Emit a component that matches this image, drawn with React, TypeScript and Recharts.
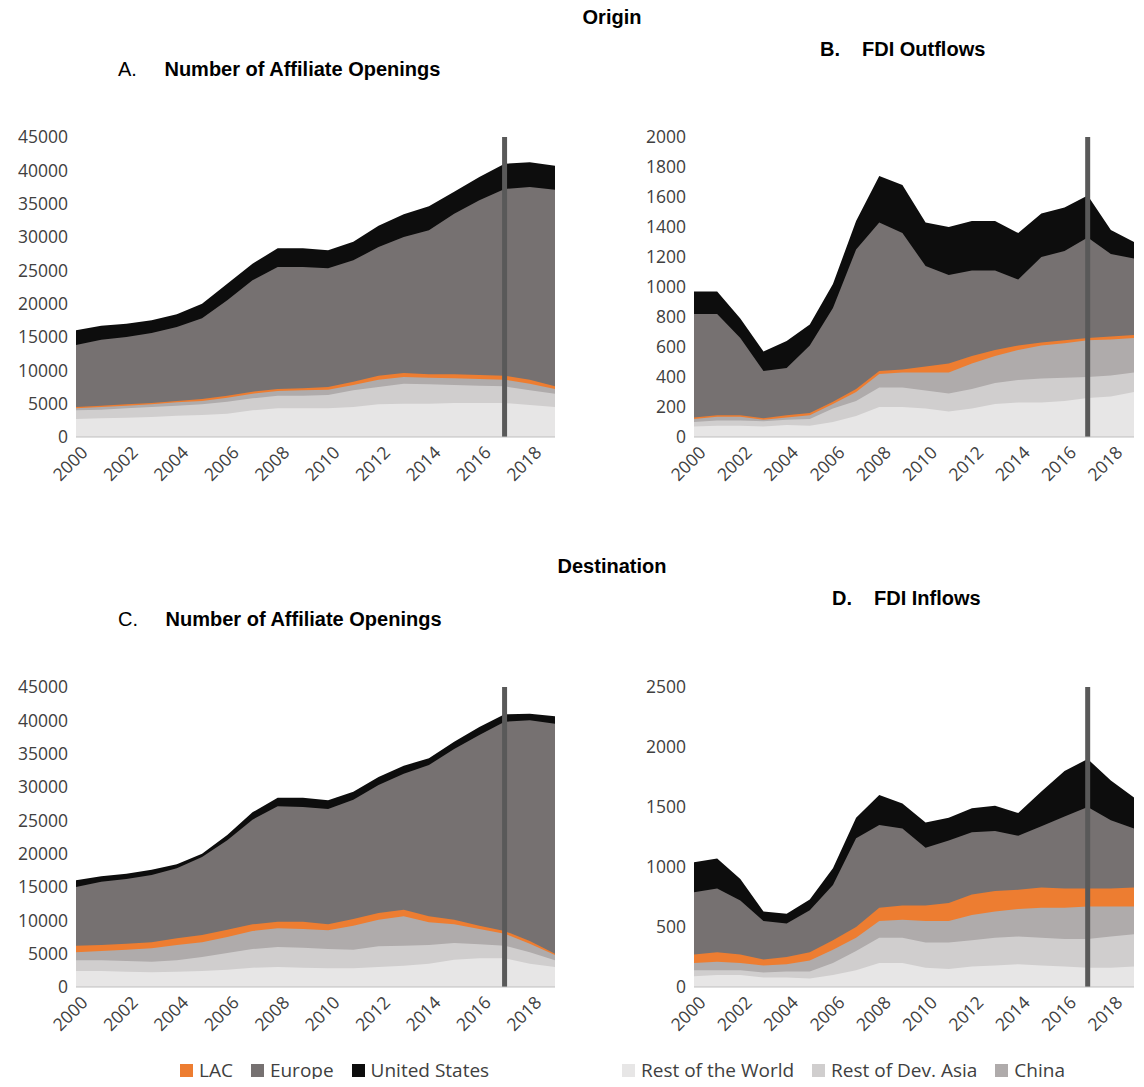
import React from 'react';
import { AreaChart, Area, XAxis, YAxis, ReferenceLine } from 'recharts';

const years = [2000, 2001, 2002, 2003, 2004, 2005, 2006, 2007, 2008, 2009, 2010, 2011, 2012, 2013, 2014, 2015, 2016, 2017, 2018, 2019];

// cumulative (stacked) tops, bottom layer first
const aRow = [2700, 2800, 2900, 3000, 3200, 3300, 3500, 4000, 4300, 4300, 4300, 4500, 4900, 5000, 5000, 5100, 5100, 5100, 4800, 4500];
const aRda = [4000, 4100, 4300, 4500, 4700, 4900, 5300, 5800, 6200, 6200, 6300, 7000, 7500, 8000, 7900, 7800, 7700, 7600, 7000, 6500];
const aChina = [4300, 4500, 4700, 4900, 5200, 5400, 5900, 6500, 6900, 7000, 7100, 7800, 8600, 9000, 8900, 8800, 8700, 8600, 8000, 7200];
const aLac = [4500, 4700, 4900, 5100, 5400, 5700, 6200, 6800, 7200, 7300, 7500, 8300, 9200, 9600, 9400, 9400, 9300, 9200, 8600, 7600];
const aEurope = [13800, 14600, 15000, 15600, 16500, 17800, 20500, 23500, 25500, 25500, 25300, 26500, 28500, 30000, 31000, 33500, 35500, 37200, 37500, 37100];
const aUs = [16000, 16700, 17000, 17500, 18400, 20000, 23000, 26000, 28300, 28300, 28000, 29300, 31700, 33400, 34600, 36800, 39000, 41000, 41200, 40700];

const bRow = [70, 75, 75, 70, 80, 75, 100, 140, 200, 200, 190, 170, 190, 220, 230, 230, 240, 260, 270, 300];
const bRda = [100, 110, 110, 105, 115, 120, 190, 240, 330, 330, 310, 290, 320, 360, 380, 390, 395, 400, 410, 430];
const bChina = [120, 135, 135, 115, 130, 145, 220, 300, 420, 430, 430, 430, 490, 540, 580, 610, 625, 645, 650, 660];
const bLac = [130, 145, 145, 125, 145, 160, 235, 320, 440, 450, 470, 490, 540, 580, 610, 630, 645, 660, 670, 680];
const bEurope = [820, 820, 660, 440, 460, 610, 860, 1250, 1430, 1360, 1140, 1080, 1110, 1110, 1050, 1200, 1240, 1330, 1220, 1190];
const bUs = [970, 970, 790, 570, 640, 750, 1020, 1440, 1740, 1680, 1430, 1400, 1440, 1440, 1360, 1490, 1530, 1610, 1380, 1300];

const cRow = [2400, 2400, 2300, 2200, 2300, 2400, 2600, 2900, 3000, 2900, 2800, 2800, 3000, 3200, 3500, 4100, 4300, 4300, 3500, 3000];
const cRda = [4000, 4000, 3900, 3800, 4000, 4500, 5100, 5700, 6000, 5900, 5700, 5600, 6100, 6200, 6300, 6600, 6400, 6200, 5200, 4000];
const cChina = [5200, 5400, 5600, 5800, 6300, 6700, 7500, 8400, 8800, 8700, 8500, 9200, 10100, 10600, 9700, 9400, 8700, 8000, 6500, 4800];
const cLac = [6200, 6300, 6500, 6700, 7300, 7800, 8600, 9400, 9800, 9800, 9400, 10200, 11100, 11600, 10600, 10100, 9200, 8400, 6900, 5000];
const cEurope = [15000, 15800, 16200, 16800, 17800, 19500, 22000, 25100, 27100, 27000, 26700, 28100, 30300, 32000, 33300, 35700, 37800, 39800, 40000, 39500];
const cUs = [16000, 16600, 17000, 17600, 18400, 20000, 22800, 26200, 28400, 28400, 28000, 29300, 31500, 33200, 34300, 36800, 39000, 40900, 41000, 40600];

const dRow = [90, 100, 100, 80, 80, 70, 100, 140, 200, 200, 160, 150, 170, 180, 190, 180, 170, 160, 160, 170];
const dRda = [140, 140, 140, 120, 130, 130, 200, 300, 410, 410, 370, 370, 390, 410, 420, 410, 400, 400, 420, 440];
const dChina = [200, 210, 200, 180, 190, 220, 310, 410, 550, 560, 550, 550, 600, 630, 650, 660, 660, 670, 670, 670];
const dLac = [270, 290, 270, 230, 250, 290, 390, 500, 660, 680, 680, 700, 770, 800, 810, 830, 820, 820, 820, 830];
const dEurope = [790, 820, 720, 550, 530, 640, 850, 1240, 1350, 1320, 1160, 1220, 1290, 1300, 1260, 1340, 1420, 1500, 1390, 1320];
const dUs = [1040, 1070, 900, 630, 610, 730, 990, 1410, 1600, 1530, 1370, 1410, 1490, 1510, 1450, 1630, 1800, 1900, 1720, 1580];

const ticksAffiliates = [0, 5000, 10000, 15000, 20000, 25000, 30000, 35000, 40000, 45000];
const ticksOut = [0, 200, 400, 600, 800, 1000, 1200, 1400, 1600, 1800, 2000];
const ticksIn = [0, 500, 1000, 1500, 2000, 2500];

const SERIES = [
  { key: 'us', name: 'United States', color: '#0d0d0d' },
  { key: 'europe', name: 'Europe', color: '#767171' },
  { key: 'lac', name: 'LAC', color: '#ed7d31' },
  { key: 'china', name: 'China', color: '#afabab' },
  { key: 'rda', name: 'Rest of Dev. Asia', color: '#d0cece' },
  { key: 'row', name: 'Rest of the World', color: '#e7e6e6' },
];

const build = (row: number[], rda: number[], china: number[], lac: number[], europe: number[], us: number[]) =>
  years.map((y, i) => ({ year: y, row: row[i], rda: rda[i], china: china[i], lac: lac[i], europe: europe[i], us: us[i] }));

const tickFont = { fontFamily: 'Open Sans, sans-serif', fontSize: 17.5, fill: '#404040' };

const Panel = ({ data, ticks, yWidth, width }: any) => (
  <AreaChart width={width} height={390} data={data} margin={{ top: 12, right: 10, left: 0, bottom: 0 }}>
    <XAxis dataKey="year" interval={1} tick={{ ...tickFont }} angle={-45} textAnchor="end" height={78}
      tickLine={false} axisLine={{ stroke: '#bfbfbf' }} dx={4} />
    <YAxis domain={[0, ticks[ticks.length - 1]]} ticks={ticks} tick={{ ...tickFont }} width={yWidth}
      axisLine={false} tickLine={false} />
    {SERIES.map(s => (
      <Area key={s.key} dataKey={s.key} type="linear" stroke="none" fill={s.color} fillOpacity={1} isAnimationActive={false} />
    ))}
    <ReferenceLine x={2017} stroke="#595959" strokeWidth={5} />
  </AreaChart>
);

const title = { position: 'absolute' as const, fontFamily: 'Liberation Sans, Arial, sans-serif', fontSize: 20, color: '#000' };

const LegendItem = ({ s }: any) => (
  <span style={{ display: 'inline-flex', alignItems: 'center', marginRight: 18 }}>
    <span style={{ width: 13, height: 13, background: s.color, marginRight: 6 }} />
    {s.name}
  </span>
);

const legendStyle = { position: 'absolute' as const, top: 1058, fontFamily: 'Open Sans, sans-serif', fontSize: 19, lineHeight: '24px', color: '#404040', display: 'flex' };

export default function App() {
  const byKey = (k: string) => SERIES.find(s => s.key === k);
  return (
    <div style={{ position: 'relative', width: 1144, height: 1087, margin: -8, background: '#fff', overflow: 'hidden' }}>
      <div style={{ ...title, left: 0, width: 1224, textAlign: 'center', top: 6, fontWeight: 'bold' }}>Origin</div>
      <div style={{ ...title, left: 118, top: 58 }}>A. <b style={{ marginLeft: 22 }}>Number of Affiliate Openings</b></div>
      <div style={{ ...title, left: 820, top: 38, fontWeight: 'bold' }}>B.<span style={{ marginLeft: 22 }}>FDI Outflows</span></div>
      <div style={{ position: 'absolute', left: 0, top: 125 }}><Panel data={build(aRow, aRda, aChina, aLac, aEurope, aUs)} ticks={ticksAffiliates} yWidth={76} width={565} /></div>
      <div style={{ position: 'absolute', left: 612, top: 125 }}><Panel data={build(bRow, bRda, bChina, bLac, bEurope, bUs)} ticks={ticksOut} yWidth={82} width={532} /></div>

      <div style={{ ...title, left: 0, width: 1224, textAlign: 'center', top: 555, fontWeight: 'bold' }}>Destination</div>
      <div style={{ ...title, left: 118, top: 608 }}>C. <b style={{ marginLeft: 22 }}>Number of Affiliate Openings</b></div>
      <div style={{ ...title, left: 832, top: 587, fontWeight: 'bold' }}>D.<span style={{ marginLeft: 22 }}>FDI Inflows</span></div>
      <div style={{ position: 'absolute', left: 0, top: 675 }}><Panel data={build(cRow, cRda, cChina, cLac, cEurope, cUs)} ticks={ticksAffiliates} yWidth={76} width={565} /></div>
      <div style={{ position: 'absolute', left: 612, top: 675 }}><Panel data={build(dRow, dRda, dChina, dLac, dEurope, dUs)} ticks={ticksIn} yWidth={82} width={532} /></div>

      <div style={{ ...legendStyle, left: 180 }}>
        {['lac', 'europe', 'us'].map(k => <LegendItem key={k} s={byKey(k)} />)}
      </div>
      <div style={{ ...legendStyle, left: 622 }}>
        {['row', 'rda', 'china'].map(k => <LegendItem key={k} s={byKey(k)} />)}
      </div>
    </div>
  );
}
